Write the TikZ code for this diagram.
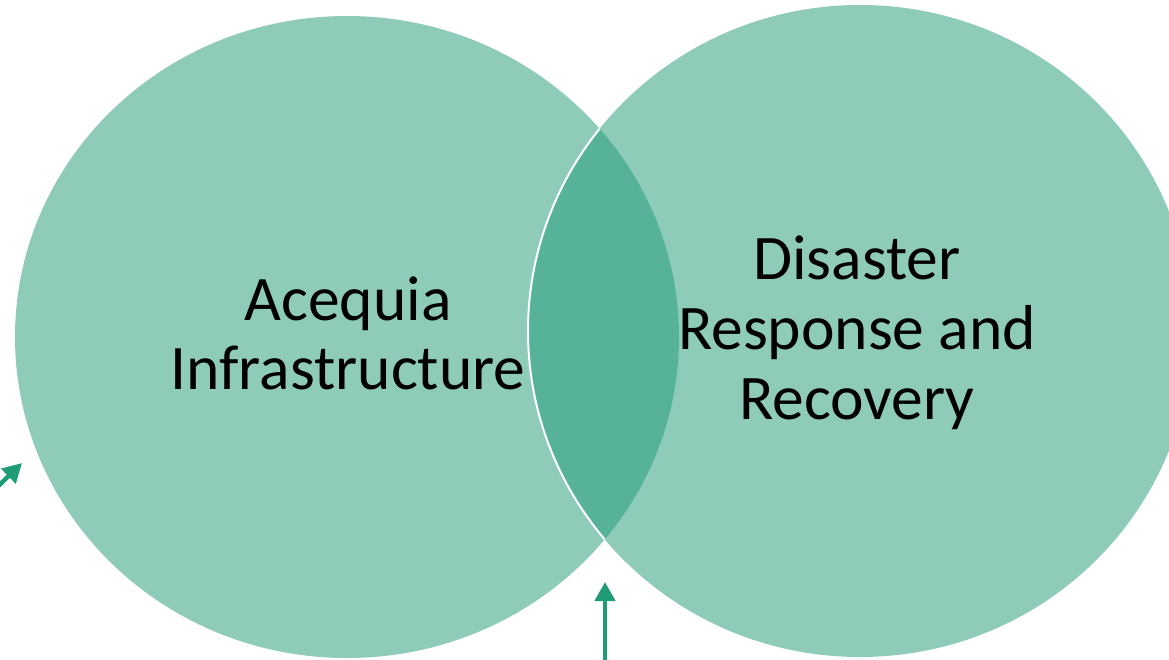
\documentclass[tikz,border=0pt]{standalone}
\usepackage{fontspec}
\setmainfont{Carlito}
\usetikzlibrary{arrows.meta}
\definecolor{lightg}{HTML}{8FCBB9}
\definecolor{darkg}{HTML}{56B399}
\definecolor{arrowg}{HTML}{1F9B78}
\tikzset{
  lbl/.style={anchor=base, inner sep=0pt, font=\fontsize{63.5}{70}\selectfont, text=black},
  pointer/.style={arrowg, line width=4.5pt, -{Triangle[width=20pt,length=19pt]}}
}
\begin{document}
\begin{tikzpicture}[x=1pt,y=-1pt]
\useasboundingbox (0,0) rectangle (1169,659);
\clip (0,0) rectangle (1169,659);
% circles
\fill[lightg] (347,337) ellipse [x radius=332pt, y radius=321pt];
\fill[lightg] (860,331) ellipse [x radius=332pt, y radius=326pt];
\begin{scope}
  \clip (347,337) ellipse [x radius=332pt, y radius=321pt];
  \fill[darkg] (860,331) ellipse [x radius=332pt, y radius=326pt];
  \draw[white, line width=2pt] (860,331) ellipse [x radius=332pt, y radius=326pt];
\end{scope}
% labels
\node[lbl] (l1) at (348,320) {Acequia};
\node[lbl] (l2) at (348,389) {Infrastructure};
\node[lbl] (r1) at (857,279) {Disaster};
\node[lbl] (r2) at (857,349) {Response and};
\node[lbl] (r3) at (857,419) {Recovery};
% arrows
\coordinate (a1s) at (-12,496);
\coordinate (a1e) at (22,463);
\coordinate (a2s) at (605,670);
\coordinate (a2e) at (605,582);
\draw[pointer] (a1s) -- (a1e);
\draw[pointer] (a2s) -- (a2e);
\end{tikzpicture}
\end{document}
